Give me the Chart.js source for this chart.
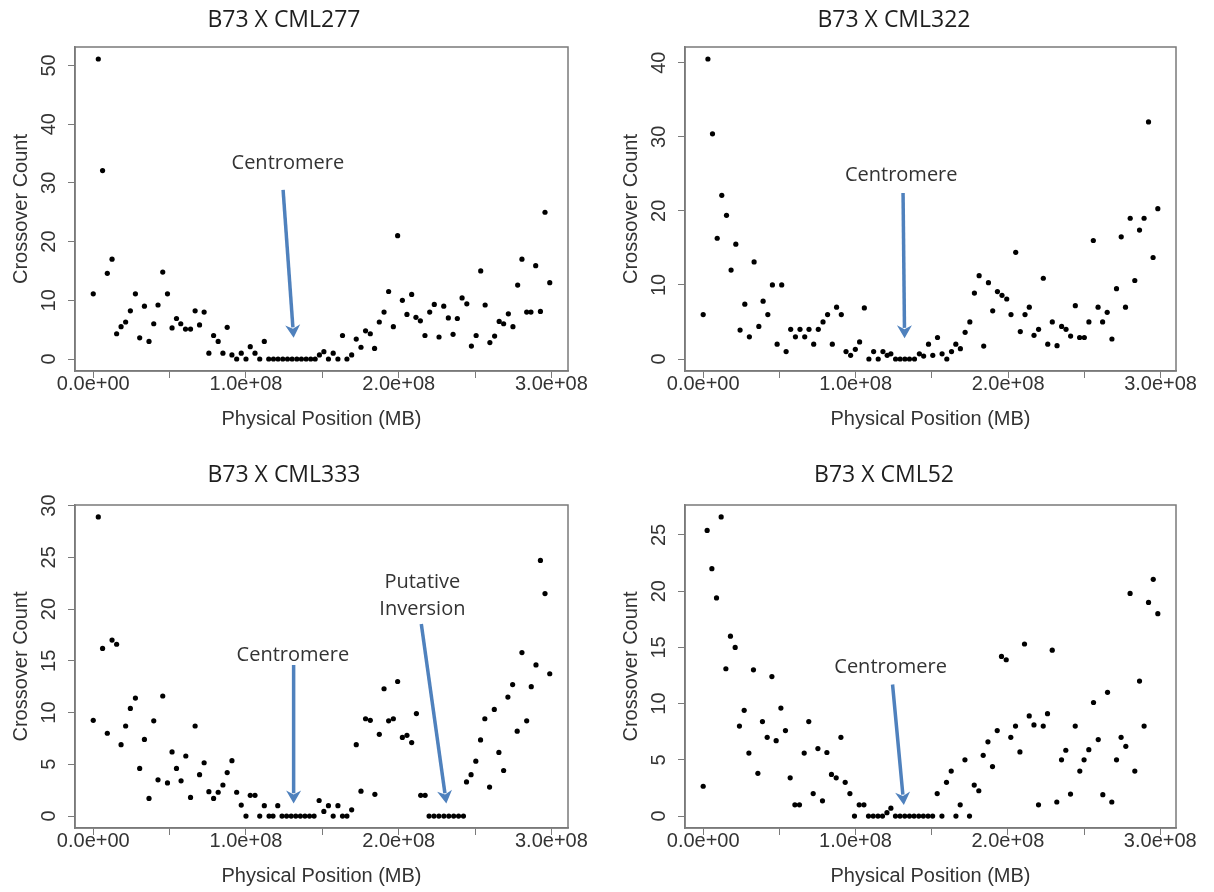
<!DOCTYPE html>
<html>
<head>
<meta charset="utf-8">
<script src="https://cdn.jsdelivr.net/npm/chart.js@4.4.1/dist/chart.umd.min.js"></script>
<style>
html,body{margin:0;padding:0;background:#fff;width:1214px;height:892px;overflow:hidden;}
canvas{position:absolute;}
</style>
</head>
<body>
<canvas id="p277"></canvas>
<canvas id="p322"></canvas>
<canvas id="p333"></canvas>
<canvas id="p52"></canvas>
<script>
// ---------- DATA (positions in Mb, crossover counts) ----------
const panelTitles = ['B73 X CML277', 'B73 X CML322', 'B73 X CML333', 'B73 X CML52'];
const xAxisTitle = 'Physical Position (MB)';
const yAxisTitle = 'Crossover Count';
const xTickLabels = ['0.0e+00', '1.0e+08', '2.0e+08', '3.0e+08'];

const cml277Pos = [0, 3.3, 6.1, 9.2, 12.3, 15.3, 18.2, 21.2, 24.3, 27.6, 30.4, 33.5, 36.5, 39.6, 42.4, 45.5, 48.6, 51.6, 54.5, 57.3,
  60.4, 63.7, 66.7, 69.6, 72.6, 75.7, 78.8, 81.8, 84.9, 87.7, 90.8, 93.9, 96.9, 100, 102.8, 105.9, 109, 112,
  114.9, 118, 121, 124.1, 127.2, 130.2, 133.3, 136.3, 139.4, 142.4, 145.3,
  148.1, 151, 154, 157.1, 160.2, 163.2, 166.1, 169.2, 172.2, 175.3, 178.3, 181.4, 184.2, 187.3, 190.4, 193.4, 196.5, 199.3, 202.4, 205.4,
  208.5, 211.3, 214.2, 217.2, 220.3, 223.3, 226.4, 229.5, 232.5, 235.6, 238.4, 241.5, 244.6, 247.6, 250.7, 253.7, 256.6, 259.7, 262.8, 265.8,
  268.7, 271.8, 274.8, 277.9, 280.7, 283.8, 286.6, 289.7, 292.8, 295.8, 298.9];
const cml277Count = [11.1, 51.1, 32.1, 14.6, 17.0, 4.3, 5.5, 6.3, 8.2, 11.1, 3.6, 9.0, 3.0, 6.0, 9.2, 14.8, 11.1, 5.3, 6.9, 6.0,
  5.1, 5.1, 8.2, 5.8, 8.0, 1.0, 4.0, 3.0, 1.0, 5.4, 0.7, 0, 1.0, 0, 2.1, 1.0, 0, 3.0,
  0, 0, 0, 0, 0, 0, 0, 0, 0, 0, 0,
  0.7, 1.25, 0, 1.0, 0, 4.0, 0, 0.7, 3.4, 2.0, 4.8, 4.3, 1.8, 6.3, 8.0, 11.5, 5.5, 21.0, 10.0, 7.6,
  11.0, 7.1, 6.5, 4.0, 8.0, 9.3, 3.75, 9.0, 7.0, 4.2, 6.9, 10.4, 9.4, 2.2, 4.0, 15.0, 9.2, 2.8, 3.9, 6.4,
  6.0, 7.7, 5.5, 12.6, 17.0, 8.0, 8.0, 15.9, 8.1, 25.0, 13.0];

const cml322Pos = [0, 3.1, 6.1, 9.2, 12.2, 15.3, 18.3, 21.4, 24.2, 27.3, 30.3, 33.4, 36.5, 39.3, 42.4, 45.4, 48.5, 51.5, 54.4, 57.4,
  60.5, 63.5, 66.6, 69.4, 72.5, 75.5, 78.6, 81.6, 84.7, 87.5, 90.6, 93.7, 96.7, 99.8, 102.6, 105.7, 108.7, 111.8, 114.8, 117.9, 120.7, 123.1,
  126.2, 129.2, 132.3, 135.3, 138.6,
  141.8, 144.6, 147.8, 150.6, 153.7, 156.7, 159.8, 162.9, 165.7, 168.7, 171.8, 174.9, 177.9, 181.0, 184.0, 187.1, 189.9, 193.0, 196.0, 199.1,
  201.9, 205.0, 208.0, 211.1, 213.9, 217.0, 220.0, 223.1, 226.0, 229.0, 232.1, 235.1, 238.0, 241.0, 244.1, 246.9, 250.0, 253.0, 255.9, 259.0,
  262.0, 265.0, 268.1, 271.1, 274.2, 277.0, 280.1, 283.1, 286.2, 289.2, 292.1, 295.1, 298.2];
const cml322Count = [6.0, 40.5, 30.4, 16.3, 22.1, 19.4, 12.0, 15.5, 3.9, 7.4, 3.0, 13.1, 4.4, 7.8, 6.0, 10.0, 2.0, 10.0, 1.0, 4.0,
  3.0, 4.0, 3.0, 4.0, 2.0, 4.0, 5.0, 6.0, 2.0, 7.0, 6.0, 1.0, 0.5, 1.3, 2.3, 6.9, 0, 1.0, 0, 1.0, 0.5, 0.7,
  0, 0, 0, 0, 0,
  0.7, 0.4, 2.0, 0.5, 2.9, 0.7, 0, 1.0, 2.0, 1.4, 3.6, 5.0, 8.9, 11.25, 1.75, 10.3, 6.5, 9.1, 8.6, 8.1,
  6.0, 14.4, 3.7, 6.0, 7.0, 3.2, 4.0, 10.9, 2.0, 5.0, 1.8, 4.4, 4.0, 3.1, 7.2, 2.9, 2.9, 5.0, 16.0, 7.0,
  5.0, 6.3, 2.7, 9.5, 16.5, 7.0, 19.0, 10.6, 17.4, 19.0, 32.0, 13.7, 20.3];

const cml333Pos = [0, 3.3, 6.1, 9.2, 12.3, 15.3, 18.2, 21.2, 24.3, 27.6, 30.4, 33.5, 36.5, 39.6, 42.4, 45.5, 48.6, 51.6, 54.5, 57.5,
  60.6, 63.7, 66.7, 69.6, 72.6, 75.7, 78.8, 81.8, 84.9, 87.7, 90.8, 93.9, 96.9, 100, 102.8, 105.9, 109, 112, 115.1, 117.7, 120.8,
  123.6, 126.6, 129.6, 132.6, 135.6, 138.6, 141.6, 144.6,
  147.9, 151.0, 154.0, 157.1, 160.2, 163.2, 166.1, 169.2, 172.2, 175.3, 178.3, 181.4, 184.4, 187.3, 190.4, 193.4, 196.5, 199.3, 202.4, 205.4,
  208.5, 211.6, 214.4, 217.3,
  219.9, 223.1, 226.3, 229.6, 232.8, 236.0, 239.2, 242.4,
  244.4, 247.4, 250.5, 253.6, 256.4, 259.5, 262.6, 265.6, 268.7, 271.5, 274.6, 277.6, 280.7, 283.8, 286.8, 289.9, 292.8, 295.8, 298.9];
const cml333Count = [9.25, 28.9, 16.2, 8.0, 17.0, 16.6, 6.9, 8.7, 10.4, 11.4, 4.6, 7.4, 1.7, 9.2, 3.5, 11.6, 3.2, 6.2, 4.6, 3.4,
  5.8, 1.8, 8.7, 4.0, 5.15, 2.35, 1.7, 2.3, 3.0, 4.2, 5.35, 2.3, 1.06, 0, 2.0, 2.0, 0, 1.0, 0, 0, 1.0,
  0, 0, 0, 0, 0, 0, 0, 0,
  1.5, 0.45, 1.0, 0, 1.0, 0, 0, 0.6, 6.9, 2.4, 9.4, 9.25, 2.1, 7.9, 12.3, 9.2, 9.4, 13.0, 7.6, 7.8,
  7.1, 9.9, 2.0, 2.0,
  0, 0, 0, 0, 0, 0, 0, 0,
  3.3, 4.0, 5.3, 7.35, 9.4, 2.8, 10.3, 6.15, 4.4, 11.5, 12.7, 8.2, 15.8, 9.2, 12.5, 14.6, 24.7, 21.5, 13.75];

const cml52Pos = [0, 2.6, 5.7, 8.75, 11.8, 14.9, 17.9, 21.0, 23.8, 26.9, 30.0, 33.0, 35.9, 38.9, 42.0, 45.1, 47.9, 51.0, 54.0, 57.1,
  60.2, 63.2, 66.3, 69.3, 72.2, 75.3, 78.3, 81.2, 84.2, 87.3, 90.4, 93.2, 96.3, 99.3, 102.4, 105.5, 108.5, 111.6, 114.7, 117.7, 120.6, 123.2,
  126.2, 129.2, 132.3, 135.4, 138.4, 141.5, 144.5, 147.6, 150.6,
  153.6, 156.7, 159.7, 162.8, 165.9, 168.7, 171.8, 174.8, 177.9, 180.9, 183.8, 186.9, 189.9, 193.0, 195.8, 198.9, 201.9, 205.0, 207.9, 210.9,
  214.0, 217.1, 220.1, 223.2, 226.0, 229.1, 232.1, 235.2, 238.0, 241.1, 244.2, 247.2, 250.0, 253.1, 256.2, 259.3, 262.3, 265.4, 268.2, 271.3,
  274.3, 277.4, 280.2, 283.3, 286.4, 289.4, 292.3, 295.4, 298.4];
const cml52Count = [2.65, 25.4, 22.0, 19.4, 26.6, 13.1, 16.0, 15.0, 8.0, 9.4, 5.6, 13.0, 3.8, 8.4, 7.0, 12.4, 6.7, 9.6, 7.6, 3.4,
  1.0, 1.0, 5.6, 8.4, 2.0, 6.0, 1.35, 5.65, 3.7, 3.4, 7.0, 3.0, 2.0, 0, 1.0, 1.0, 0, 0, 0, 0, 0.3, 0.7,
  0, 0, 0, 0, 0, 0, 0, 0, 0,
  2.0, 0, 3.0, 4.0, 0, 1.0, 5.0, 0, 2.75, 2.25, 5.4, 6.6, 4.4, 7.6, 14.2, 13.9, 7.0, 8.0, 5.7, 15.3,
  8.9, 8.1, 1.0, 8.0, 9.1, 14.75, 1.25, 5.0, 5.85, 1.95, 8.0, 4.0, 5.0, 5.9, 10.1, 6.8, 1.9, 11.0, 1.25, 5.0,
  7.0, 6.2, 19.8, 4.0, 12.0, 8.0, 19.0, 21.05, 18.0];

// annotations in data units (Mb, count)
const notes277 = [{lines: ['Centromere'], at: [127.4, 33.4], from: [124.3, 28.8], to: [131.2, 3.6]}];
const notes322 = [{lines: ['Centromere'], at: [129.9, 24.8], from: [131.1, 22.4], to: [132.1, 2.8]}];
const notes333 = [{lines: ['Centromere'], at: [130.7, 15.5], from: [131.2, 14.6], to: [131.2, 1.2]},
                  {lines: ['Putative', 'Inversion'], at: [215.5, 21.25], from: [214.8, 18.55], to: [231.2, 1.2]}];
const notes52 = [{lines: ['Centromere'], at: [123.0, 13.2], from: [124.3, 11.7], to: [131.7, 0.98]}];

// ---------- DRAWING ----------
const AXIS_GREY = '#7a7a7a';
const TEXT_GREY = '#333333';
const ARROW_BLUE = '#4F81BD';
const SANS = "'Liberation Sans', Arial, sans-serif";
const NOTE_FONT = "'Open Sans', sans-serif";

function rRange(arr) {
  const lo = Math.min(...arr), hi = Math.max(...arr);
  const d = (hi - lo) * 0.04;
  return [lo - d, hi + d];
}

const boxAndLabels = {
  id: 'boxAndLabels',
  beforeDatasetsDraw(chart) {
    const a = chart.chartArea, ctx = chart.ctx;
    ctx.save();
    ctx.strokeStyle = AXIS_GREY;
    ctx.lineWidth = 1.5;
    ctx.strokeRect(a.left, a.top, a.right - a.left, a.bottom - a.top);
    ctx.restore();
  },
  afterDraw(chart) {
    const ctx = chart.ctx, ys = chart.scales.y, a = chart.chartArea;
    ctx.save();
    ctx.fillStyle = TEXT_GREY;
    ctx.font = '20px ' + SANS;
    ctx.textAlign = 'center';
    ctx.textBaseline = 'middle';
    ys.ticks.forEach(t => {
      const py = ys.getPixelForValue(t.value);
      ctx.save();
      ctx.translate(a.left - 26, py);
      ctx.rotate(-Math.PI / 2);
      ctx.fillText(String(t.value), 0, 0);
      ctx.restore();
    });
    // annotations
    const notes = chart.options.plugins.boxAndLabels.notes || [];
    const xs = chart.scales.x;
    notes.forEach(n => {
      const x1 = xs.getPixelForValue(n.from[0]), y1 = ys.getPixelForValue(n.from[1]);
      const x2 = xs.getPixelForValue(n.to[0]), y2 = ys.getPixelForValue(n.to[1]);
      const dx = x2 - x1, dy = y2 - y1, len = Math.hypot(dx, dy);
      const ux = dx / len, uy = dy / len;
      const head = 13, half = 7.5;
      ctx.strokeStyle = ARROW_BLUE;
      ctx.fillStyle = ARROW_BLUE;
      ctx.lineWidth = 3.5;
      ctx.lineCap = 'butt';
      ctx.beginPath();
      ctx.moveTo(x1, y1);
      ctx.lineTo(x2 - ux * head * 0.8, y2 - uy * head * 0.8);
      ctx.stroke();
      ctx.beginPath();
      ctx.moveTo(x2, y2);
      ctx.lineTo(x2 - ux * head - uy * half, y2 - uy * head + ux * half);
      ctx.lineTo(x2 - ux * head * 0.7, y2 - uy * head * 0.7);
      ctx.lineTo(x2 - ux * head + uy * half, y2 - uy * head - ux * half);
      ctx.closePath();
      ctx.fill();
      ctx.fillStyle = TEXT_GREY;
      ctx.font = '20px ' + NOTE_FONT;
      ctx.textAlign = 'center';
      ctx.textBaseline = 'middle';
      const tx = xs.getPixelForValue(n.at[0]), ty = ys.getPixelForValue(n.at[1]);
      const lh = 27, n0 = (n.lines.length - 1) / 2;
      n.lines.forEach((l, i) => ctx.fillText(l, tx, ty + (i - n0) * lh));
    });
    ctx.restore();
  }
};

function makePanel(spec) {
  const cv = document.getElementById(spec.id);
  cv.width = spec.w; cv.height = spec.h;
  cv.style.left = spec.left + 'px'; cv.style.top = spec.top + 'px';
  cv.style.width = spec.w + 'px'; cv.style.height = spec.h + 'px';
  const [xmin, xmax] = rRange(spec.pos);
  const [ymin, ymax] = rRange(spec.count);
  return new Chart(cv, {
    type: 'scatter',
    data: {
      datasets: [{
        data: spec.pos.map((p, i) => ({x: p, y: spec.count[i]})),
        pointRadius: 2.6,
        pointBackgroundColor: '#000',
        pointBorderWidth: 0,
        borderColor: '#000'
      }]
    },
    options: {
      responsive: false,
      animation: false,
      devicePixelRatio: 1,
      events: [],
      layout: {padding: {left: 0, top: 0, bottom: 0, right: spec.padRight}},
      plugins: {
        legend: {display: false},
        tooltip: {enabled: false},
        title: {
          display: true,
          text: spec.title,
          color: '#1e1e1e',
          font: {family: "'Open Sans', sans-serif", size: 23, weight: 'normal', lineHeight: 1.2},
          padding: spec.titlePad
        },
        boxAndLabels: {notes: spec.notes}
      },
      scales: {
        x: {
          type: 'linear',
          min: xmin, max: xmax,
          afterFit: s => { s.height = spec.xAxisH; },
          grid: {drawOnChartArea: false, drawTicks: true, tickLength: 7, color: AXIS_GREY, lineWidth: 1},
          border: {display: true, color: AXIS_GREY, width: 1.5},
          ticks: {
            stepSize: 50,
            includeBounds: false,
            autoSkip: false,
            maxRotation: 0, minRotation: 0,
            padding: -4,
            color: TEXT_GREY,
            font: {family: SANS, size: 20, lineHeight: 1},
            callback: v => (Math.abs(v % 100) < 1e-9 ? xTickLabels[Math.round(v / 100)] : '')
          },
          title: {
            display: true, text: xAxisTitle, color: TEXT_GREY,
            font: {family: SANS, size: 20, lineHeight: 1.2},
            padding: {top: 0, bottom: spec.xTitlePad}
          }
        },
        y: {
          type: 'linear',
          min: ymin, max: ymax,
          afterFit: s => { s.width = spec.yAxisW; },
          grid: {drawOnChartArea: false, drawTicks: true, tickLength: 7, color: AXIS_GREY, lineWidth: 1},
          border: {display: true, color: AXIS_GREY, width: 1.5},
          ticks: {stepSize: spec.yStep, includeBounds: false, display: false},
          title: {
            display: true, text: yAxisTitle, color: TEXT_GREY,
            font: {family: SANS, size: 20, lineHeight: 1.2},
            padding: {top: spec.yTitlePad, bottom: 0}
          }
        }
      }
    },
    plugins: [boxAndLabels]
  });
}

const topTitlePad = {top: 7, bottom: 12.4};
const bottomTitlePad = {top: 15.2, bottom: 16.2};

makePanel({id: 'p277', left: 0, top: 0, w: 618, h: 446, padRight: 50, yAxisW: 75, xAxisH: 75,
  titlePad: topTitlePad, yTitlePad: 9, xTitlePad: 15, yStep: 10,
  title: panelTitles[0], pos: cml277Pos, count: cml277Count, notes: notes277});
makePanel({id: 'p322', left: 612, top: 0, w: 588, h: 446, padRight: 24, yAxisW: 73, xAxisH: 75,
  titlePad: topTitlePad, yTitlePad: 7, xTitlePad: 15, yStep: 10,
  title: panelTitles[1], pos: cml322Pos, count: cml322Count, notes: notes322});
makePanel({id: 'p333', left: 0, top: 446, w: 624, h: 446, padRight: 56, yAxisW: 75, xAxisH: 64,
  titlePad: bottomTitlePad, yTitlePad: 9, xTitlePad: 4, yStep: 5,
  title: panelTitles[2], pos: cml333Pos, count: cml333Count, notes: notes333});
makePanel({id: 'p52', left: 592, top: 446, w: 608, h: 446, padRight: 24, yAxisW: 93, xAxisH: 64,
  titlePad: bottomTitlePad, yTitlePad: 27, xTitlePad: 4, yStep: 5,
  title: panelTitles[3], pos: cml52Pos, count: cml52Count, notes: notes52});
</script>
</body>
</html>
